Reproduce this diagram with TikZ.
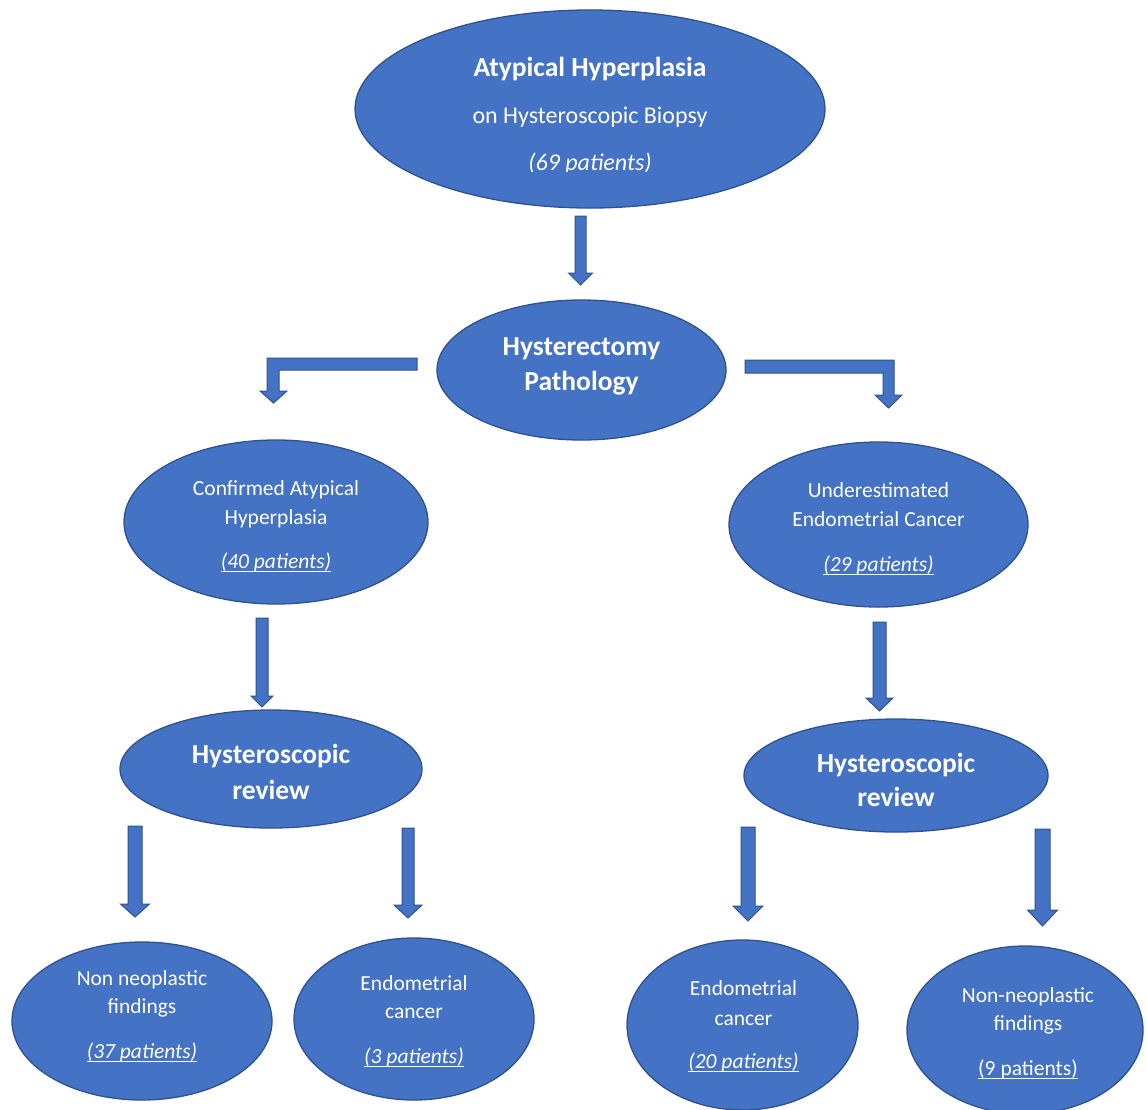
\documentclass[tikz,border=0pt]{standalone}
\usepackage{fontspec}
\setmainfont{Carlito}
\usetikzlibrary{shapes.geometric}
\definecolor{fillblue}{HTML}{4472C4}
\definecolor{edgeblue}{HTML}{2F528F}
\newcommand\patul[1]{\setbox0\hbox{#1}\rlap{\rule[-3.5pt]{\wd0}{0.9pt}}\box0}
\newcommand\blockdown[6]{\filldraw[arrowblk] ({#1-#2},#4) -- ({#1+#2},#4) -- ({#1+#2},#5) -- ({#1+#3},#5) -- (#1,#6) -- ({#1-#3},#5) -- ({#1-#2},#5) -- cycle;}
\tikzset{
  blob/.style={ellipse, draw=edgeblue, fill=fillblue, line width=1.3pt, inner sep=0pt},
  arrowblk/.style={draw=edgeblue, fill=fillblue, line width=1pt, line join=miter},
  lbl/.style={text=white, inner sep=0pt, anchor=base},
  big/.style={font=\fontsize{27.5}{31}\selectfont\bfseries},
  mid/.style={font=\fontsize{24}{28}\selectfont},
  sml/.style={font=\fontsize{21.5}{25}\selectfont},
}
\begin{document}
\begin{tikzpicture}[x=1pt, y=-1pt]
\useasboundingbox (0,0) rectangle (1147,1109);
\clip (0,0) rectangle (1147,1109);

% ellipses
\node[blob, minimum width=470pt, minimum height=198pt] (biopsy) at (590,109) {};
\node[blob, minimum width=289pt, minimum height=140pt] (hyst) at (581.5,370) {};
\node[blob, minimum width=304pt, minimum height=164pt] (conf) at (276,522) {};
\node[blob, minimum width=299pt, minimum height=165pt] (under) at (878.5,524.5) {};
\node[blob, minimum width=302pt, minimum height=118pt] (revL) at (271,769) {};
\node[blob, minimum width=304pt, minimum height=113pt] (revR) at (896,775.5) {};
\node[blob, minimum width=260pt, minimum height=158pt] (nnL) at (142,1021) {};
\node[blob, minimum width=240pt, minimum height=162pt] (ecL) at (414,1019) {};
\node[blob, minimum width=231pt, minimum height=170pt] (ecR) at (742.5,1025) {};
\node[blob, minimum width=236pt, minimum height=168pt] (nnR) at (1025,1030) {};

% texts
\node[lbl, big] (t1a) at (590,76) {Atypical Hyperplasia};
\node[lbl, mid] (t1b) at (590,123) {on Hysteroscopic Biopsy};
\begin{scope}
\clip (450,140) rectangle (730,171.5);
\node[lbl, mid] (t1c) at (590,170) {\itshape (69 patients)};
\end{scope}

\node[lbl, big] (t2a) at (581.5,355) {Hysterectomy};
\node[lbl, big] (t2b) at (581.5,390) {Pathology};

\node[lbl, sml] (t3a) at (276,495) {Confirmed Atypical};
\node[lbl, sml] (t3b) at (276,524) {Hyperplasia};
\node[lbl, sml] (t3c) at (276,568) {\patul{\itshape (40 patients)}};

\node[lbl, sml] (t4a) at (878.5,497) {Underestimated};
\node[lbl, sml] (t4b) at (878.5,526) {Endometrial Cancer};
\node[lbl, sml] (t4c) at (878.5,571) {\patul{\itshape (29 patients)}};

\node[lbl, big] (t5a) at (271,763) {Hysteroscopic};
\node[lbl, big] (t5b) at (271,799) {review};

\node[lbl, big] (t6a) at (896,772) {Hysteroscopic};
\node[lbl, big] (t6b) at (896,806) {review};

\node[lbl, sml] (t7a) at (142,985) {Non neoplastic};
\node[lbl, sml] (t7b) at (142,1013) {findings};
\node[lbl, sml] (t7c) at (142,1058) {\patul{\itshape (37 patients)}};

\node[lbl, sml] (t8a) at (414,990) {Endometrial};
\node[lbl, sml] (t8b) at (414,1018) {cancer};
\node[lbl, sml] (t8c) at (414,1063) {\patul{\itshape (3 patients)}};

\node[lbl, sml] (t9a) at (743.5,995) {Endometrial};
\node[lbl, sml] (t9b) at (743.5,1025) {cancer};
\node[lbl, sml] (t9c) at (743.5,1068) {\patul{\itshape (20 patients)}};

\node[lbl, sml] (t10a) at (1028,1002) {Non-neoplastic};
\node[lbl, sml] (t10b) at (1028,1030) {findings};
\node[lbl, sml] (t10c) at (1028,1075) {\patul{(9 patients)}};

% block arrows
\blockdown{580.5}{5.5}{12}{216}{273}{285}
\blockdown{262}{6}{11}{618}{696}{707}
\blockdown{879.5}{6.5}{13.5}{622}{698}{711}
\blockdown{135}{7}{14.5}{826}{904}{917}
\blockdown{408}{6}{14}{828}{905}{918}
\blockdown{748}{7}{15}{827}{906}{921}
\blockdown{1042.5}{7.5}{15}{829}{910}{926}

% bent arrows
\filldraw[arrowblk] (417,358) -- (267,358) -- (267,391) -- (260,391) -- (273.5,403) -- (287,391) -- (279,391) -- (279,370) -- (417,370) -- cycle;
\filldraw[arrowblk] (745,360) -- (894,360) -- (894,395) -- (902,395) -- (888.5,408) -- (875,395) -- (883,395) -- (883,373) -- (745,373) -- cycle;
\end{tikzpicture}
\end{document}
